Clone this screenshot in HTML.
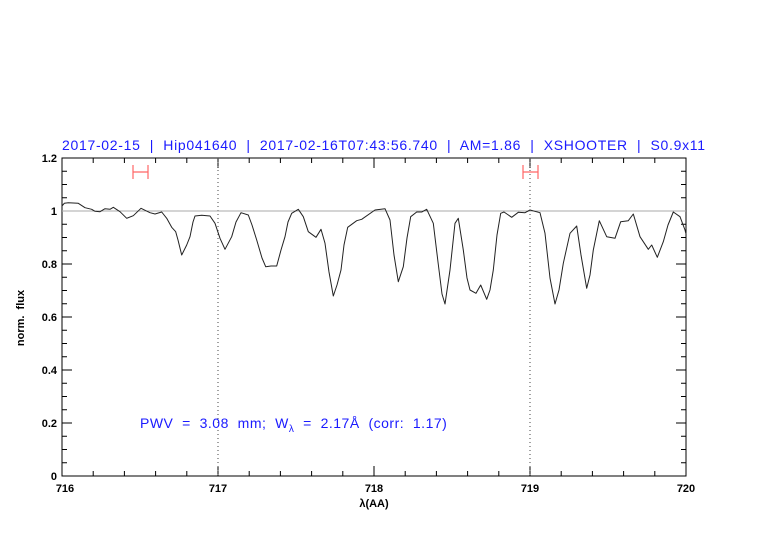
<!DOCTYPE html>
<html><head><meta charset="utf-8"><style>
html,body{margin:0;padding:0;background:#fff;}
svg{display:block;}
text{font-family:"Liberation Sans",sans-serif;white-space:pre;}
</style></head><body>
<svg width="782" height="542" viewBox="0 0 782 542" xmlns="http://www.w3.org/2000/svg" xml:space="preserve">
<text x="62" y="150" font-size="14" fill="#1a1aff" textLength="643" lengthAdjust="spacing">2017-02-15  |  Hip041640  |  2017-02-16T07:43:56.740  |  AM=1.86  |  XSHOOTER  |  S0.9x11</text>
<g stroke="#000" stroke-width="1" fill="none">
<rect x="62" y="158" width="624" height="318"/>
<path d="M93.2,476v-5M124.4,476v-5M155.6,476v-5M186.8,476v-5M249.2,476v-5M280.4,476v-5M311.6,476v-5M342.8,476v-5M405.2,476v-5M436.4,476v-5M467.6,476v-5M498.8,476v-5M561.2,476v-5M592.4,476v-5M623.6,476v-5M654.8,476v-5
M218,476v-10M374,476v-10M530,476v-10
M93.2,158v5M124.4,158v5M155.6,158v5M186.8,158v5M249.2,158v5M280.4,158v5M311.6,158v5M342.8,158v5M405.2,158v5M436.4,158v5M467.6,158v5M498.8,158v5M561.2,158v5M592.4,158v5M623.6,158v5M654.8,158v5
M218,158v10M374,158v10M530,158v10"/>
<path d="M62,462.75h5M62,449.5h5M62,436.25h5M62,409.75h5M62,396.5h5M62,383.25h5M62,356.75h5M62,343.5h5M62,330.25h5M62,303.75h5M62,290.5h5M62,277.25h5M62,250.75h5M62,237.5h5M62,224.25h5M62,197.75h5M62,184.5h5M62,171.25h5
M62,423h10M62,370h10M62,317h10M62,264h10M62,211h10
M686,462.75h-5M686,449.5h-5M686,436.25h-5M686,409.75h-5M686,396.5h-5M686,383.25h-5M686,356.75h-5M686,343.5h-5M686,330.25h-5M686,303.75h-5M686,290.5h-5M686,277.25h-5M686,250.75h-5M686,237.5h-5M686,224.25h-5M686,197.75h-5M686,184.5h-5M686,171.25h-5
M686,423h-10M686,370h-10M686,317h-10M686,264h-10M686,211h-10"/>
</g>
<g font-size="11" fill="#000" text-anchor="end" font-weight="bold">
<text x="57" y="480">0</text><text x="57" y="427">0.2</text><text x="57" y="374">0.4</text><text x="57" y="321">0.6</text><text x="57" y="268">0.8</text><text x="57" y="215">1</text><text x="57" y="162">1.2</text>
</g>
<g font-size="11" fill="#000" text-anchor="middle" font-weight="bold">
<text x="65" y="492">716</text><text x="218" y="492">717</text><text x="374" y="492">718</text><text x="530" y="492">719</text><text x="686" y="492">720</text>
<text x="374" y="507">λ(AA)</text>
<text transform="translate(24,318) rotate(-90)">norm.  flux</text>
</g>
<path d="M218,158V476M530,158V476" stroke="#444" stroke-width="1" stroke-dasharray="1,3"/>
<line x1="62" y1="211" x2="686" y2="211" stroke="#aaa" stroke-width="1"/>
<g stroke="#f66" stroke-width="1.2" fill="none">
<path d="M133,165v14M148,165v14M133,172h15M523,165v14M538,165v14M523,172h15"/>
</g>
<polyline fill="none" stroke="#222" stroke-width="1" stroke-linejoin="round" points="62,206 64.3,203.3 68.3,202.7 78.3,203.3 85,207.7 91.7,209.3 95,211.3 100,211.7 105,208.7 110,209.3 113.3,207.3 120,211.7 126.7,218.3 133.3,215.7 141,208.3 150,212.7 155,214 161.7,212 166.7,218.3 171.7,227.3 175.7,231.7 178,240 181.7,255 186.7,245 190,236.7 193,222 195,216 201.7,215.3 210,216 215,223.3 220,238.3 225,249.3 231.7,236.7 236,222 241,212.7 248.3,215 252,225 256.7,240 262,258 265.7,266.7 271,266 276.7,266 281,250 285,236.7 288,222 291.7,213.3 298.3,209.3 303.3,216.7 308.3,231.7 316,237.3 321,229.3 325,243.3 329,272 333.3,296 337,285 341,270 344,245 347.7,227.3 356.7,220.7 361.7,219.3 375,210 385,208.7 390,220 394,255 398.3,281.7 403.3,266.7 407,238 410.7,216.7 416.7,212 421.7,212 426.7,209.3 433.3,223.3 438,262 442,294 445,304 450,270 455,223.3 458.3,218.3 463.3,250 467,278 470,290 476,293.3 480.7,285 486.7,299.3 490,290 493.3,270 497,235 500.7,213.3 504,212 511.7,217.3 518.3,212.3 525,212.7 530,210 540,212.7 545,233.3 550,278 555,304 559,290 563.3,263.3 570,233.3 576.7,226 581,255 586.7,288.3 590,275 593.3,250 599.3,220.7 606.7,236.7 615,238.3 620.7,221.7 628.3,220.7 633.3,214 640,236.7 648.3,249.3 651.7,245 657.3,257.3 663.3,241.7 668,225 673.3,212 680,216.7 685,230 686,234"/>
<text x="140" y="428" font-size="14" fill="#1a1aff" letter-spacing="0.5">PWV  =  3.08  mm;  W<tspan font-size="10" dy="4">λ</tspan><tspan dy="-4">  =  2.17Å  (corr:  1.17)</tspan></text>
</svg>
</body></html>
